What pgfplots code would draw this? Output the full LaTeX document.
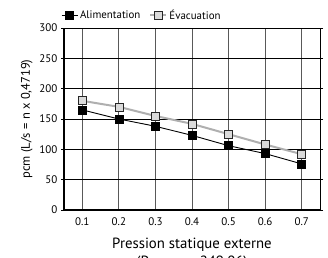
\documentclass[border=0pt]{standalone}
\usepackage{pgfplots}
\pgfplotsset{compat=1.18}
\usepackage{fontspec}
\setmainfont{PT Sans}
\definecolor{evl}{HTML}{AFAFAF}
\definecolor{evf}{HTML}{DADADA}
\begin{document}
\begin{tikzpicture}
\begin{axis}[
  scale only axis,
  width=256pt, height=182pt,
  xmin=0.05, xmax=0.75,
  ymin=0, ymax=300,
  xtick={0.1,0.2,0.3,0.4,0.5,0.6,0.7},
  ytick={0,50,100,150,200,250,300},
  /pgf/number format/assume math mode=true,
  xticklabel style={/pgf/number format/fixed, /pgf/number format/precision=1, font=\fontsize{11}{12}\selectfont, yshift=-1pt},
  yticklabel style={font=\fontsize{11}{12}\selectfont},
  xmajorgrids, ymajorgrids,
  major x grid style={color=black!65, line width=0.8pt},
  major y grid style={color=black, line width=0.8pt},
  tick align=outside,
  major tick length=3pt,
  xtick style={draw=none},
  ytick style={black, line width=0.8pt},
  axis line style={line width=0.8pt},
  xlabel={Pression statique externe\\(Pouces x 249,06)},
  xlabel style={align=center, font=\fontsize{14.8}{18}\selectfont, at={(axis description cs:0.5,0)}, anchor=north, yshift=-24pt},
  ylabel={pcm (L/s = n x 0,4719)},
  ylabel style={font=\fontsize{12.5}{14}\selectfont, yshift=0pt},
  legend style={draw=none, fill=none, at={(0,1)}, anchor=south west, xshift=-3pt, yshift=5pt, inner sep=0pt, legend columns=2, font=\fontsize{10.9}{12}\selectfont, /tikz/every even column/.append style={column sep=7pt}},
  legend image code/.code={\draw[#1, mark repeat=2, mark phase=2] plot coordinates {(0pt,0pt) (8pt,0pt) (16pt,0pt)};},
  clip=false,
]
\addplot[black, line width=0.9pt, mark=square*, mark size=4pt, mark options={fill=black, draw=black, line width=0.6pt}] coordinates {
(0.1,165) (0.2,150) (0.3,138) (0.4,123) (0.5,106) (0.6,93) (0.7,76)};
\addlegendentry{Alimentation}
\addplot[evl, line width=2pt, mark=square*, mark size=4pt, mark options={fill=evf, draw=black!85, line width=0.7pt}] coordinates {
(0.1,180) (0.2,170) (0.3,155) (0.4,142) (0.5,125) (0.6,108) (0.7,92)};
\addlegendentry{Évacuation}
\draw[line width=1.6pt] (rel axis cs:0,1) -- (rel axis cs:0,0) -- (rel axis cs:1,0);
\coordinate (bl) at (rel axis cs:0,0);
\end{axis}
\pgfresetboundingbox
\path[use as bounding box] (bl) ++(-64pt,-47pt) rectangle ++(328pt,257pt);
\end{tikzpicture}
\end{document}
